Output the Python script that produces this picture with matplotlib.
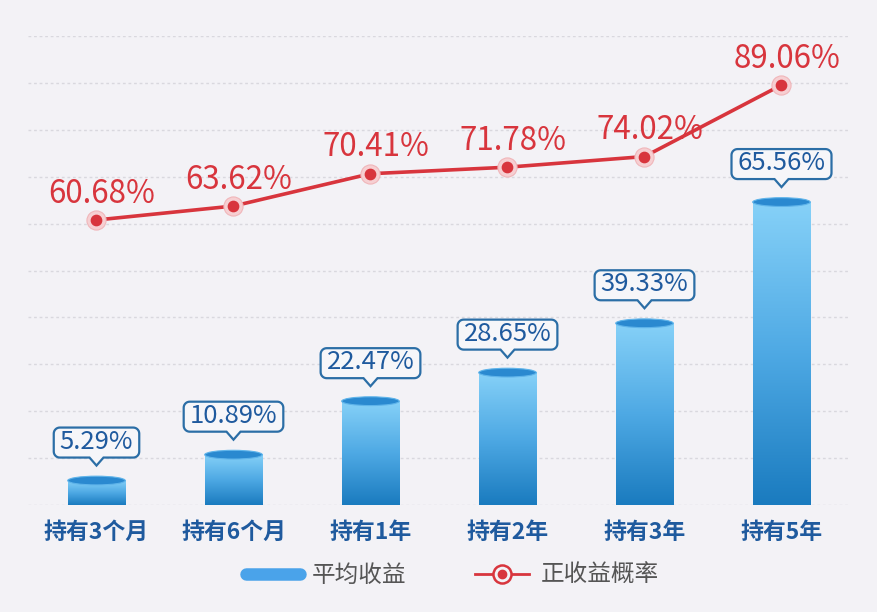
import numpy as np
import matplotlib.pyplot as plt
import matplotlib.transforms as mtransforms
from matplotlib.patches import Polygon, Ellipse
from matplotlib.lines import Line2D
from matplotlib.legend_handler import HandlerTuple
from matplotlib.colors import LinearSegmentedColormap

plt.rcParams['font.family'] = ['Noto Sans CJK SC', 'DejaVu Sans']

periods = ['持有3个月', '持有6个月', '持有1年', '持有2年', '持有3年', '持有5年']
avg_return = [5.29, 10.89, 22.47, 28.65, 39.33, 65.56]
pos_prob = [60.68, 63.62, 70.41, 71.78, 74.02, 89.06]

bg = '#f3f2f6'
red = '#d8353d'
blue_txt = '#1f5a9e'

fig = plt.figure(figsize=(8.78, 6.12), dpi=100, facecolor=bg)
ax = fig.add_axes([28 / 878, 107 / 612, 822 / 878, 469 / 612])
ax.set_facecolor(bg)

# bars with a vertical gradient
grad = np.linspace(0, 1, 256).reshape(-1, 1)
cmap = LinearSegmentedColormap.from_list('bar', ['#1a7bbf', '#4ea9e4', '#86d1f8'])
bw = 0.42
ell_h = 1.9
for i, v in enumerate(avg_return):
    ax.imshow(grad, cmap=cmap, extent=(i - bw / 2, i + bw / 2, 0, v),
              origin='lower', aspect='auto', zorder=2, interpolation='bilinear')
    ax.add_patch(Ellipse((i, v), bw, ell_h, facecolor='#2a89d0',
                         edgecolor='#5fb4ea', lw=0.8, zorder=3))

ax.set_xlim(-0.5, 5.5)
ax.set_ylim(0, 101.5)
ax.set_yticks(np.linspace(0, 101.5, 11))
ax.grid(axis='y', color='#d9d8de', linestyle=(0, (2, 2)), linewidth=1, zorder=0)
for s in ax.spines.values():
    s.set_visible(False)
ax.set_xticks(range(len(periods)))
ax.set_xticklabels(periods, fontsize=16.5, fontweight='bold', color=blue_txt)

# callout labels over bars
renderer = fig.canvas.get_renderer()


def callout(w, h=30, r=6, tip=15, th=8, tw=7):
    y0 = tip + th
    y1 = y0 + h
    x0, x1 = -w / 2, w / 2
    pts = [(0, tip), (tw, y0)]
    for a in np.linspace(-90, 0, 8):
        pts.append((x1 - r + r * np.cos(np.radians(a)), y0 + r + r * np.sin(np.radians(a))))
    for a in np.linspace(0, 90, 8):
        pts.append((x1 - r + r * np.cos(np.radians(a)), y1 - r + r * np.sin(np.radians(a))))
    for a in np.linspace(90, 180, 8):
        pts.append((x0 + r + r * np.cos(np.radians(a)), y1 - r + r * np.sin(np.radians(a))))
    for a in np.linspace(180, 270, 8):
        pts.append((x0 + r + r * np.cos(np.radians(a)), y0 + r + r * np.sin(np.radians(a))))
    pts.append((-tw, y0))
    return np.array(pts) / 100.0


for i, v in enumerate(avg_return):
    t = ax.annotate(f'{v:.2f}%', xy=(i, v), xytext=(0, 28), textcoords='offset points',
                    ha='center', va='center', fontsize=18.5, color=blue_txt, zorder=7)
    w = t.get_window_extent(renderer).width + 12
    tr = fig.dpi_scale_trans + mtransforms.ScaledTranslation(i, v, ax.transData)
    ax.add_patch(Polygon(callout(w), closed=True, transform=tr, facecolor='#f6f6f9',
                         edgecolor='#2b6ea6', lw=1.6, zorder=6, clip_on=False))

# probability line
ax2 = ax.twinx()
ax2.set_ylim(0.77, 99.36)
ax2.axis('off')
x = np.arange(len(pos_prob))
ax2.plot(x, pos_prob, color=red, lw=2.6, zorder=3)
ax2.scatter(x, pos_prob, s=190, color='#f6cfd2', edgecolors='#f0b6ba', linewidths=0.8, zorder=4)
ax2.scatter(x, pos_prob, s=55, color=red, zorder=5)
for i, v in enumerate(pos_prob):
    ax2.annotate(f'{v:.2f}%', xy=(i, v), xytext=(4, 19), textcoords='offset points',
                 ha='center', va='center', fontsize=22.5, color=red)

ax.tick_params(left=False, right=False, bottom=False, labelleft=False)
ax.tick_params(axis='x', pad=8)

# legend
h1 = Line2D([], [], color='#4aa3ea', lw=9, solid_capstyle='round')
h2 = (Line2D([], [], color=red, lw=2, marker='o', ms=13, mfc=bg, mec=red, mew=1.8),
      Line2D([], [], ls='none', marker='o', ms=6, color=red))
fig.legend([h1, h2], ['平均收益', '正收益概率'], loc='center', bbox_to_anchor=(0.515, 0.06),
           ncol=2, frameon=False, fontsize=17, labelcolor='#555555', handlelength=2.3,
           handletextpad=0.5, columnspacing=2.9,
           handler_map={tuple: HandlerTuple(ndivide=1)})

fig.savefig('out.png', dpi=100, facecolor=bg)
